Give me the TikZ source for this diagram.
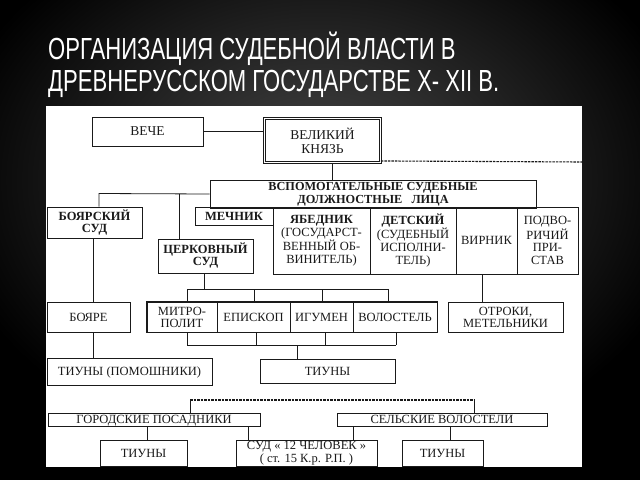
\documentclass[tikz,border=0pt]{standalone}
\usepackage{fontspec}
\setmainfont{Liberation Serif}
\newfontfamily\titlefont[FakeStretch=0.724]{Liberation Sans}
\definecolor{ink}{HTML}{1A1A1A}
\definecolor{bgc}{HTML}{484848}
\pgfdeclareradialshading{bgshade}{\pgfpoint{0bp}{0bp}}{color(0bp)=(bgc); color(25bp)=(black); color(50bp)=(black)}
\begin{document}
\begin{tikzpicture}[x=1pt,y=-1pt,
  box/.style={draw=ink, line width=0.9pt, inner sep=0pt, align=center, text=ink,
    font=\fontsize{12.5}{12.7}\selectfont},
  oneline/.style={text height=8.3pt, text depth=0pt},
  boldbox/.style={box, font=\bfseries\fontsize{12.5}{12}\selectfont},
  bigbox/.style={box, font=\fontsize{13.5}{14}\selectfont},
  frame/.style={draw=ink, line width=1.5pt},
  link/.style={draw=ink, line width=0.8pt},
  dashlink/.style={draw=ink, line width=1.1pt, dash pattern=on 2.5pt off 1pt},
  title/.style={anchor=base west, text=white, inner sep=0pt,
    font=\titlefont\fontsize{30.5}{30.5}\selectfont}]
\useasboundingbox (0,0) rectangle (640,480);
\fill[black] (0,0) rectangle (640,480);
\begin{scope}
\clip (0,0) rectangle (640,480);
\shade[shading=bgshade] (320,180) ellipse [x radius=380, y radius=284];
\end{scope}
\node[title] (t1) at (48,59) {ОРГАНИЗАЦИЯ СУДЕБНОЙ ВЛАСТИ В};
\node[title] (t2) at (48,91) {ДРЕВНЕРУССКОМ ГОСУДАРСТВЕ X- XII В.};
\fill[white] (46,106) rectangle (582,467);
\begin{scope}
\clip (46,106) rectangle (582,467);
% top level
\node[bigbox, oneline, minimum width=111pt, minimum height=29pt] (veche) at (147.5,131.5) {ВЕЧЕ};
\node[bigbox, double, double distance=1pt, line width=1.1pt, minimum width=115.8pt, minimum height=43.8pt] (knyaz) at (322.5,140.5) {ВЕЛИКИЙ\\КНЯЗЬ};
\node[boldbox, font=\bfseries\fontsize{12.3}{13.5}\selectfont, minimum width=326pt, minimum height=28pt] (vspom) at (373,194) {ВСПОМОГАТЕЛЬНЫЕ СУДЕБНЫЕ\\ДОЛЖНОСТНЫЕ\ \ \ ЛИЦА};
% officials row
\node[boldbox, oneline, minimum width=78pt, minimum height=18pt] (mechnik) at (234,216.5) {МЕЧНИК};
\node[box, minimum width=97pt, minimum height=67pt] (yab) at (321.5,240.5) {\textbf{ЯБЕДНИК}\\(ГОСУДАРСТ-\\ВЕННЫЙ ОБ-\\ВИНИТЕЛЬ)};
\node[box, minimum width=86pt, minimum height=67pt] (det) at (413,240.5) {\textbf{ДЕТСКИЙ}\\(СУДЕБНЫЙ\\ИСПОЛНИ-\\ТЕЛЬ)};
\node[box, oneline, minimum width=61pt, minimum height=67pt] (vir) at (486.5,240.5) {ВИРНИК};
\node[box, minimum width=61pt, minimum height=67pt] (podv) at (547.5,240.5) {ПОДВО-\\РИЧИЙ\\ПРИ-\\СТАВ};
% left branch
\node[boldbox, minimum width=95pt, minimum height=31pt] (boyarsud) at (94.5,222.5) {БОЯРСКИЙ\\СУД};
\node[boldbox, minimum width=95pt, minimum height=34pt] (cerk) at (205.5,256) {ЦЕРКОВНЫЙ\\СУД};
\node[box, oneline, minimum width=83pt, minimum height=30pt] (boyare) at (88.5,317) {БОЯРЕ};
\node[box, oneline, minimum width=165pt, minimum height=27pt] (tiunypom) at (129.5,371.5) {ТИУНЫ (ПОМОШНИКИ)};
% church row
\node[box, font=\fontsize{12.5}{12}\selectfont, minimum width=70pt, minimum height=30pt] (m1) at (182,317) {МИТРО-\\ПОЛИТ};
\node[box, oneline, minimum width=73pt, minimum height=30pt] (m2) at (253.5,317) {ЕПИСКОП};
\node[box, oneline, minimum width=63pt, minimum height=30pt] (m3) at (321.5,317) {ИГУМЕН};
\node[box, oneline, minimum width=84pt, minimum height=30pt] (m4) at (395,317) {ВОЛОСТЕЛЬ};
\draw[frame] (m1.north west) rectangle (m4.south east);
\node[box, oneline, minimum width=135pt, minimum height=24pt] (tiunymid) at (327.5,371) {ТИУНЫ};
\node[box, font=\fontsize{12.5}{12}\selectfont, minimum width=115pt, minimum height=30pt] (otroki) at (505.5,317) {ОТРОКИ,\\МЕТЕЛЬНИКИ};
% bottom
\node[box, oneline, minimum width=212pt, minimum height=13pt] (gorod) at (154,419.5) {ГОРОДСКИЕ ПОСАДНИКИ};
\node[box, oneline, minimum width=210pt, minimum height=13pt] (selsk) at (442,419.5) {СЕЛЬСКИЕ ВОЛОСТЕЛИ};
\node[box, oneline, minimum width=87pt, minimum height=26pt] (tiunyl) at (143.5,453) {ТИУНЫ};
\node[box, font=\fontsize{12.5}{13}\selectfont, minimum width=141pt, minimum height=26pt] (sud12) at (306.5,453.5) {СУД « 12 ЧЕЛОВЕК »\\( ст. 15 К.р. Р.П. )};
\node[box, oneline, minimum width=81pt, minimum height=26pt] (tiunyr) at (442.5,453.5) {ТИУНЫ};
% connectors
\coordinate (kend) at (582,162);
\coordinate (kx) at (332,0);
\draw[link] (veche.east) -- (veche.east -| knyaz.west);
\draw[dashlink] ([yshift=2pt]knyaz.south east) -- (kend);
\draw[link] (knyaz.south -| kx) -- (vspom.north -| kx);
\coordinate (bl) at (99,193.5);
\coordinate (bc) at (179,193.5);
\draw[link] (vspom.west) -- (bl) -- (bl |- boyarsud.north);
\draw[link] (bc) -- (bc |- cerk.north);
\coordinate (bx) at (93,0);
\draw[link] (boyarsud.south -| bx) -- (boyare.north -| bx);
\draw[link] (boyare.south -| bx) -- (tiunypom.north -| bx);
\coordinate (cj) at (204,289);
\coordinate (c1) at (187,289);
\coordinate (c2) at (254,289);
\coordinate (c3) at (322,289);
\coordinate (c4) at (388,289);
\draw[link] (cerk.south -| cj) -- (cj);
\draw[link] (c1) -- (c4);
\foreach \c in {c1,c2,c3,c4} \draw[link] (\c) -- (\c |- m1.north);
\coordinate (d1) at (187,345);
\coordinate (d2) at (256,345);
\coordinate (d3) at (325,345);
\coordinate (d4) at (396,345);
\coordinate (dj) at (297,345);
\foreach \d in {d1,d2,d3,d4} \draw[link] (\d |- m1.south) -- (\d);
\draw[link] (d1) -- (d4);
\draw[link] (dj) -- (dj |- tiunymid.north);
\coordinate (ox) at (482,0);
\draw[link] (vir.south -| ox) -- (otroki.north -| ox);
\coordinate (gl) at (190,400);
\coordinate (gr) at (474,400);
\draw[link] (gorod.north -| gl) -- (gl);
\draw[dashlink] (gl) -- (gr);
\draw[link] (gr) -- (selsk.north -| gr);
\coordinate (g1) at (147,0);
\coordinate (g2) at (248,0);
\coordinate (s1) at (353,0);
\coordinate (s2) at (450,0);
\draw[link] (gorod.south -| g1) -- (tiunyl.north -| g1);
\draw[link] (gorod.south -| g2) -- (sud12.north -| g2);
\draw[link] (selsk.south -| s1) -- (sud12.north -| s1);
\draw[link] (selsk.south -| s2) -- (tiunyr.north -| s2);
\end{scope}
\end{tikzpicture}
\end{document}
